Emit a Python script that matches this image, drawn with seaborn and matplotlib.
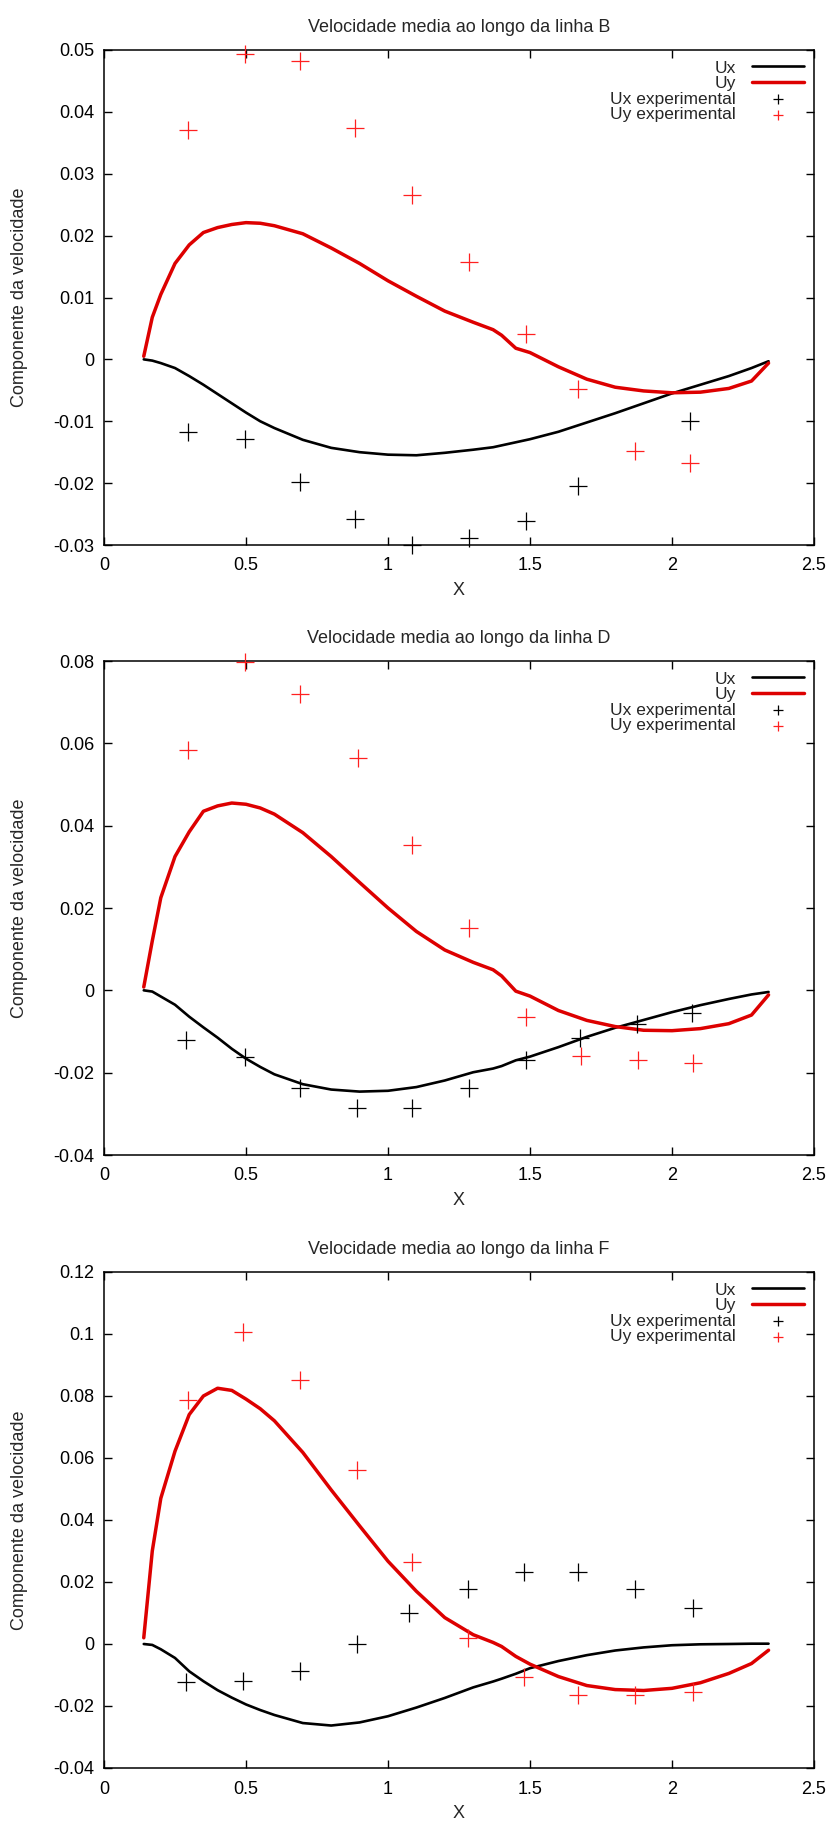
import numpy as np
import pandas as pd
import matplotlib
matplotlib.use("Agg")
import matplotlib.pyplot as plt
import seaborn as sns

sns.set_style("ticks")
plt.rcParams["font.family"] = ["Liberation Sans", "DejaVu Sans"]
plt.rcParams["axes.unicode_minus"] = False

# ---- simulated profiles (shared abscissa) ----
x_sim = [0.14, 0.17, 0.2, 0.25, 0.3, 0.35, 0.4, 0.45, 0.5, 0.55, 0.6, 0.7, 0.8,
         0.9, 1.0, 1.1, 1.2, 1.3, 1.37, 1.4, 1.45, 1.5, 1.6, 1.7, 1.8, 1.9,
         2.0, 2.1, 2.2, 2.28, 2.34]

ux_B = [0.0, -0.0002, -0.0006, -0.0014, -0.0027, -0.0041, -0.0056, -0.0071,
        -0.0086, -0.0100, -0.0111, -0.0130, -0.0143, -0.0150, -0.0154, -0.0155,
        -0.0151, -0.0146, -0.0142, -0.0139, -0.0134, -0.0129, -0.0117, -0.0102,
        -0.0087, -0.0071, -0.0055, -0.0041, -0.0027, -0.0014, -0.0003]
uy_B = [0.0005, 0.0068, 0.0105, 0.0155, 0.0185, 0.0205, 0.0213, 0.0218, 0.0221,
        0.0220, 0.0216, 0.0203, 0.0180, 0.0155, 0.0127, 0.0102, 0.0078, 0.0060,
        0.0048, 0.0039, 0.0018, 0.0011, -0.0012, -0.0032, -0.0045, -0.0051,
        -0.0054, -0.0053, -0.0047, -0.0035, -0.0006]

ux_D = [0.0, -0.0003, -0.0015, -0.0035, -0.0064, -0.0090, -0.0115, -0.0142,
        -0.0166, -0.0186, -0.0204, -0.0228, -0.0241, -0.0246, -0.0244, -0.0235,
        -0.0219, -0.0199, -0.0190, -0.0184, -0.0170, -0.0161, -0.0138, -0.0113,
        -0.0091, -0.0072, -0.0053, -0.0036, -0.0021, -0.0010, -0.0004]
uy_D = [0.0008, 0.0120, 0.0225, 0.0325, 0.0385, 0.0435, 0.0448, 0.0455, 0.0452,
        0.0443, 0.0428, 0.0383, 0.0325, 0.0262, 0.0200, 0.0143, 0.0098, 0.0068,
        0.0050, 0.0035, -0.0002, -0.0014, -0.0049, -0.0073, -0.0088, -0.0097,
        -0.0098, -0.0093, -0.0081, -0.0060, -0.0011]

ux_F = [0.0, -0.0003, -0.0017, -0.0045, -0.0088, -0.0120, -0.0149, -0.0173,
        -0.0195, -0.0213, -0.0229, -0.0255, -0.0263, -0.0253, -0.0233, -0.0205,
        -0.0174, -0.0140, -0.0121, -0.0112, -0.0096, -0.0078, -0.0055, -0.0036,
        -0.0021, -0.0011, -0.0004, -0.0001, 0.0, 0.0001, 0.0001]
uy_F = [0.0020, 0.0300, 0.0470, 0.0622, 0.0740, 0.0800, 0.0825, 0.0818, 0.0790,
        0.0759, 0.0720, 0.0618, 0.0497, 0.0381, 0.0267, 0.0170, 0.0085, 0.0030,
        0.0005, -0.0008, -0.0040, -0.0065, -0.0105, -0.0134, -0.0147, -0.0150,
        -0.0143, -0.0125, -0.0095, -0.0063, -0.0020]

# ---- experimental measurements ----
xe_ux_B = [0.295, 0.495, 0.69, 0.885, 1.085, 1.285, 1.485, 1.67, 2.065]
ue_ux_B = [-0.0117, -0.0128, -0.0198, -0.0258, -0.0300, -0.0288, -0.0262, -0.0204, -0.0099]
xe_uy_B = [0.295, 0.495, 0.69, 0.885, 1.085, 1.285, 1.485, 1.67, 1.87, 2.065]
ue_uy_B = [0.0370, 0.0494, 0.0482, 0.0374, 0.0266, 0.0158, 0.0041, -0.0048, -0.0148, -0.0167]

xe_ux_D = [0.29, 0.495, 0.69, 0.89, 1.085, 1.285, 1.485, 1.675, 1.875, 2.07]
ue_ux_D = [-0.0121, -0.0161, -0.0238, -0.0286, -0.0286, -0.0238, -0.0169, -0.0115, -0.0082, -0.0056]
xe_uy_D = [0.295, 0.495, 0.69, 0.895, 1.085, 1.285, 1.485, 1.68, 1.88, 2.075]
ue_uy_D = [0.0584, 0.0798, 0.0719, 0.0564, 0.0353, 0.0151, -0.0064, -0.0159, -0.0169, -0.0177]

xe_ux_F = [0.29, 0.49, 0.69, 0.89, 1.075, 1.28, 1.48, 1.67, 1.87, 2.075]
ue_ux_F = [-0.0124, -0.0118, -0.0086, 0.0, 0.0099, 0.0177, 0.0233, 0.0233, 0.0177, 0.0115]
xe_uy_F = [0.295, 0.49, 0.69, 0.89, 1.085, 1.28, 1.48, 1.67, 1.87, 2.075]
ue_uy_F = [0.0787, 0.1008, 0.0853, 0.0561, 0.0264, 0.0020, -0.0105, -0.0165, -0.0165, -0.0155]

# ---- axis ticks ----
x_ticks = [0, 0.5, 1, 1.5, 2, 2.5]
x_ticklabels = ["0", "0.5", "1", "1.5", "2", "2.5"]
y_ticks_B = [-0.03, -0.02, -0.01, 0, 0.01, 0.02, 0.03, 0.04, 0.05]
y_ticklabels_B = ["-0.03", "-0.02", "-0.01", "0", "0.01", "0.02", "0.03", "0.04", "0.05"]
y_ticks_D = [-0.04, -0.02, 0, 0.02, 0.04, 0.06, 0.08]
y_ticklabels_D = ["-0.04", "-0.02", "0", "0.02", "0.04", "0.06", "0.08"]
y_ticks_F = [-0.04, -0.02, 0, 0.02, 0.04, 0.06, 0.08, 0.1, 0.12]
y_ticklabels_F = ["-0.04", "-0.02", "0", "0.02", "0.04", "0.06", "0.08", "0.1", "0.12"]

titles = ["Velocidade media ao longo da linha B",
          "Velocidade media ao longo da linha D",
          "Velocidade media ao longo da linha F"]

panels = [
    dict(ux=ux_B, uy=uy_B, xux=xe_ux_B, eux=ue_ux_B, xuy=xe_uy_B, euy=ue_uy_B,
         yt=y_ticks_B, ytl=y_ticklabels_B),
    dict(ux=ux_D, uy=uy_D, xux=xe_ux_D, eux=ue_ux_D, xuy=xe_uy_D, euy=ue_uy_D,
         yt=y_ticks_D, ytl=y_ticklabels_D),
    dict(ux=ux_F, uy=uy_F, xux=xe_ux_F, eux=ue_ux_F, xuy=xe_uy_F, euy=ue_uy_F,
         yt=y_ticks_F, ytl=y_ticklabels_F),
]

W, H = 834, 1821
fig = plt.figure(figsize=(W / 100, H / 100), dpi=100)

# axes boxes in pixels: (left, top, right, bottom)
boxes = [(104, 50, 814, 545), (104, 661, 814, 1155), (104, 1272, 814, 1768)]

RED_LINE = "#dd0000"
RED_PT = "#ff2020"

for (l, t, r, b), p, title in zip(boxes, panels, titles):
    ax = fig.add_axes([l / W, 1 - b / H, (r - l) / W, (b - t) / H])

    sim = pd.DataFrame({"X": x_sim, "Ux": p["ux"], "Uy": p["uy"]})
    sns.lineplot(data=sim, x="X", y="Ux", ax=ax, color="black", lw=1.9,
                 sort=False, estimator=None, label="Ux",
                 solid_joinstyle="round", solid_capstyle="round")
    sns.lineplot(data=sim, x="X", y="Uy", ax=ax, color=RED_LINE, lw=2.5,
                 sort=False, estimator=None, label="Uy",
                 solid_joinstyle="round", solid_capstyle="round")
    sns.scatterplot(x=p["xux"], y=p["eux"], ax=ax, marker="+", s=150,
                    color="black", linewidth=0.9, label="Ux experimental",
                    zorder=3, clip_on=False)
    sns.scatterplot(x=p["xuy"], y=p["euy"], ax=ax, marker="+", s=150,
                    color=RED_PT, linewidth=0.9, label="Uy experimental",
                    zorder=3, clip_on=False)

    ax.set_xlim(0, 2.5)
    ax.set_ylim(p["yt"][0], p["yt"][-1])
    ax.set_xticks(x_ticks)
    ax.set_xticklabels(x_ticklabels)
    ax.set_yticks(p["yt"])
    ax.set_yticklabels(p["ytl"])
    ax.tick_params(direction="in", length=6, width=1, top=True, right=True,
                   labelsize=13, colors="black")
    ax.tick_params(axis="x", pad=9)
    ax.tick_params(axis="y", pad=7)
    for s in ax.spines.values():
        s.set_visible(True)
        s.set_linewidth(1.1)
        s.set_color("black")

    ax.set_title(title, fontsize=13, pad=13)
    ax.set_xlabel("X", fontsize=13)
    ax.set_ylabel("Componente da velocidade", fontsize=13)
    ax.xaxis.set_label_coords(0.5, -37 / (b - t))
    ax.yaxis.set_label_coords(-76 / (r - l), 0.5)

    leg = ax.legend(loc="upper right", markerfirst=False, frameon=False,
                    fontsize=12.5, labelspacing=0.02, handlelength=3.0,
                    handletextpad=0.9, borderaxespad=0.3, borderpad=0.3,
                    markerscale=0.6)

fig.savefig("out.png", dpi=100, facecolor="white")
